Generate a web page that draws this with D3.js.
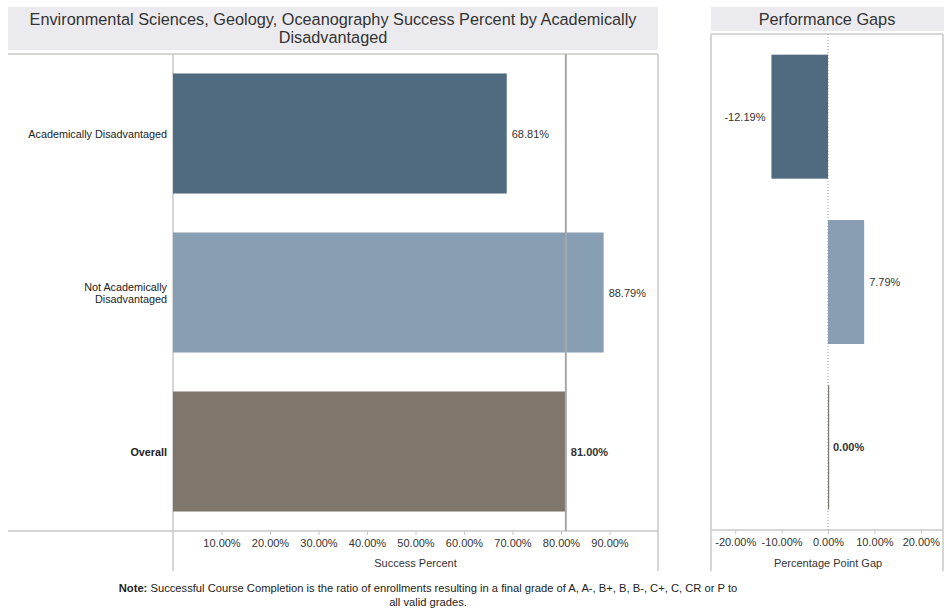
<!DOCTYPE html>
<html>
<head>
<meta charset="utf-8">
<script src="https://cdn.jsdelivr.net/npm/d3@7"></script>
<style>
  html, body { margin: 0; padding: 0; background: #fff; }
  svg { display: block; font-family: "Liberation Sans", Arial, sans-serif; }
</style>
</head>
<body>
<svg id="chart" width="944" height="608"></svg>
<script>
// ---- data ----
const categories = ["Academically Disadvantaged", "Not Academically Disadvantaged", "Overall"];
const categoryLines = [["Academically Disadvantaged"], ["Not Academically", "Disadvantaged"], ["Overall"]];
const successPercent = [0.6881, 0.8879, 0.8100];
const gapValues = [-0.1219, 0.0779, 0.0000];
const successTicks = [0.1, 0.2, 0.3, 0.4, 0.5, 0.6, 0.7, 0.8, 0.9];
const gapTicks = [-0.2, -0.1, 0.0, 0.1, 0.2];
const referenceValue = 0.81;
const barColors = ["#506a80", "#879eb3", "#7f766c"];
const boldRow = "Overall";
const titleLeft = ["Environmental Sciences, Geology, Oceanography Success Percent by Academically", "Disadvantaged"];
const titleRight = "Performance Gaps";
const noteBold = "Note:";
const noteRest = " Successful Course Completion is the ratio of enrollments resulting in a final grade of A, A-, B+, B, B-, C+, C, CR or P to";
const noteLine2 = "all valid grades.";

const svg = d3.select("#chart");
const fmt = d3.formatLocale({ decimal: ".", thousands: ",", grouping: [3], currency: ["$", ""], minus: "-" }).format(".2%");
const lineColor = "#c8c8c8";
const textColor = "#333";

// ---- left panel ----
const L = { left: 173, right: 658, top: 54, bottom: 531, frameLeft: 8, ext: 571 };
const x = d3.scaleLinear().domain([0, 1.0]).range([L.left, L.right]);
const y = d3.scaleBand().domain(categories).range([L.top, L.bottom]).paddingInner(0.245).paddingOuter(0.1225);

// title box
svg.append("rect").attr("x", 8).attr("y", 7).attr("width", 650).attr("height", 43).attr("fill", "#ebebef");
svg.append("text").attr("x", 333).attr("y", 25).attr("text-anchor", "middle")
  .attr("font-size", 16.3).attr("fill", textColor)
  .selectAll("tspan").data(titleLeft).join("tspan")
  .attr("x", 333).attr("dy", (d, i) => i === 0 ? 0 : 18).text(d => d);

// frame lines
const gL = svg.append("g");
gL.append("line").attr("x1", L.frameLeft).attr("x2", L.right).attr("y1", L.top).attr("y2", L.top).attr("stroke", lineColor).attr("stroke-width", 1.5);
gL.append("line").attr("x1", L.frameLeft).attr("x2", L.right).attr("y1", L.bottom).attr("y2", L.bottom).attr("stroke", lineColor).attr("stroke-width", 1.5);
gL.append("line").attr("x1", L.left).attr("x2", L.left).attr("y1", L.top).attr("y2", L.ext).attr("stroke", lineColor).attr("stroke-width", 1.5);
gL.append("line").attr("x1", L.right).attr("x2", L.right).attr("y1", L.top).attr("y2", L.ext).attr("stroke", lineColor).attr("stroke-width", 1.5);

// bars
gL.selectAll("rect.bar").data(categories).join("rect").attr("class", "bar")
  .attr("x", x(0)).attr("y", d => y(d))
  .attr("width", (d, i) => x(successPercent[i]) - x(0))
  .attr("height", y.bandwidth())
  .attr("fill", (d, i) => barColors[i]);

// reference line
gL.append("line").attr("x1", x(referenceValue)).attr("x2", x(referenceValue))
  .attr("y1", L.top).attr("y2", L.bottom).attr("stroke", "#a8a8a8").attr("stroke-width", 2);

// value labels
gL.selectAll("text.val").data(categories).join("text").attr("class", "val")
  .attr("x", (d, i) => x(successPercent[i]) + 5)
  .attr("y", d => y(d) + y.bandwidth() / 2 + 4)
  .attr("font-size", 11).attr("fill", textColor)
  .attr("font-weight", d => d === boldRow ? "bold" : "normal")
  .text((d, i) => fmt(successPercent[i]));

// category labels
categories.forEach((c, i) => {
  const lines = categoryLines[i];
  const cy = y(c) + y.bandwidth() / 2;
  const t = gL.append("text").attr("text-anchor", "end").attr("font-size", 10.8).attr("fill", "#222")
    .attr("font-weight", c === boldRow ? "bold" : "normal");
  lines.forEach((ln, j) => {
    t.append("tspan").attr("x", 167).attr("y", cy + 4 + (j - (lines.length - 1) / 2) * 12).text(ln);
  });
});

// axis
const axL = svg.append("g").attr("transform", `translate(0,${L.bottom})`)
  .call(d3.axisBottom(x).tickValues(successTicks).tickFormat(fmt).tickSize(4).tickPadding(4));
axL.select(".domain").remove();
axL.selectAll(".tick line").attr("stroke", lineColor);
axL.selectAll(".tick text").attr("font-size", 11).attr("fill", textColor).attr("font-family", "Liberation Sans, Arial, sans-serif");
svg.append("text").attr("x", (L.left + L.right) / 2).attr("y", 567).attr("text-anchor", "middle")
  .attr("font-size", 11).attr("fill", textColor).text("Success Percent");

// ---- right panel ----
const R = { left: 711, right: 943, top: 34, bottom: 530, ext: 571 };
const xg = d3.scaleLinear().domain([-0.25, 0.25]).range([R.left + 1, R.right + 1]);
const yg = d3.scaleBand().domain(categories).range([R.top, R.bottom]).paddingInner(0.25).paddingOuter(0.125);

svg.append("rect").attr("x", 711).attr("y", 7).attr("width", 233).attr("height", 24).attr("fill", "#ebebef");
svg.append("text").attr("x", 827).attr("y", 25).attr("text-anchor", "middle")
  .attr("font-size", 16.3).attr("fill", textColor).text(titleRight);

const gR = svg.append("g");
gR.append("line").attr("x1", R.left).attr("x2", R.right).attr("y1", R.top).attr("y2", R.top).attr("stroke", lineColor).attr("stroke-width", 1.5);
gR.append("line").attr("x1", R.left).attr("x2", R.right).attr("y1", R.bottom).attr("y2", R.bottom).attr("stroke", lineColor).attr("stroke-width", 1.5);
gR.append("line").attr("x1", R.left).attr("x2", R.left).attr("y1", R.top).attr("y2", R.ext).attr("stroke", lineColor).attr("stroke-width", 1.5);
gR.append("line").attr("x1", R.right).attr("x2", R.right).attr("y1", R.top).attr("y2", R.ext).attr("stroke", lineColor).attr("stroke-width", 1.5);

// zero dotted line
gR.append("line").attr("x1", xg(0)).attr("x2", xg(0)).attr("y1", R.top).attr("y2", R.bottom)
  .attr("stroke", "#9a9a9a").attr("stroke-width", 1).attr("stroke-dasharray", "1,2");

// gap bars
gR.selectAll("rect.gap").data(categories).join("rect").attr("class", "gap")
  .attr("x", (d, i) => Math.min(xg(0), xg(gapValues[i])))
  .attr("y", d => yg(d))
  .attr("width", (d, i) => Math.max(1.2, Math.abs(xg(gapValues[i]) - xg(0))))
  .attr("height", yg.bandwidth())
  .attr("fill", (d, i) => barColors[i]);

gR.selectAll("text.gval").data(categories).join("text").attr("class", "gval")
  .attr("x", (d, i) => gapValues[i] < 0 ? xg(gapValues[i]) - 6 : xg(gapValues[i]) + 5)
  .attr("text-anchor", (d, i) => gapValues[i] < 0 ? "end" : "start")
  .attr("y", d => yg(d) + yg.bandwidth() / 2 + 4)
  .attr("font-size", 11).attr("fill", textColor)
  .attr("font-weight", d => d === boldRow ? "bold" : "normal")
  .text((d, i) => fmt(gapValues[i]));

const axR = svg.append("g").attr("transform", `translate(0,${R.bottom})`)
  .call(d3.axisBottom(xg).tickValues(gapTicks).tickFormat(fmt).tickSize(4).tickPadding(4));
axR.select(".domain").remove();
axR.selectAll(".tick line").attr("stroke", lineColor);
axR.selectAll(".tick text").attr("font-size", 11).attr("fill", textColor).attr("font-family", "Liberation Sans, Arial, sans-serif");
svg.append("text").attr("x", xg(0)).attr("y", 567).attr("text-anchor", "middle")
  .attr("font-size", 11).attr("fill", textColor).text("Percentage Point Gap");

// ---- note ----
const note = svg.append("text").attr("x", 428).attr("y", 592).attr("text-anchor", "middle")
  .attr("font-size", 11.2).attr("fill", "#222");
note.append("tspan").attr("font-weight", "bold").text(noteBold);
note.append("tspan").text(noteRest);
svg.append("text").attr("x", 428).attr("y", 606).attr("text-anchor", "middle")
  .attr("font-size", 11.2).attr("fill", "#222").text(noteLine2);
</script>
</body>
</html>
